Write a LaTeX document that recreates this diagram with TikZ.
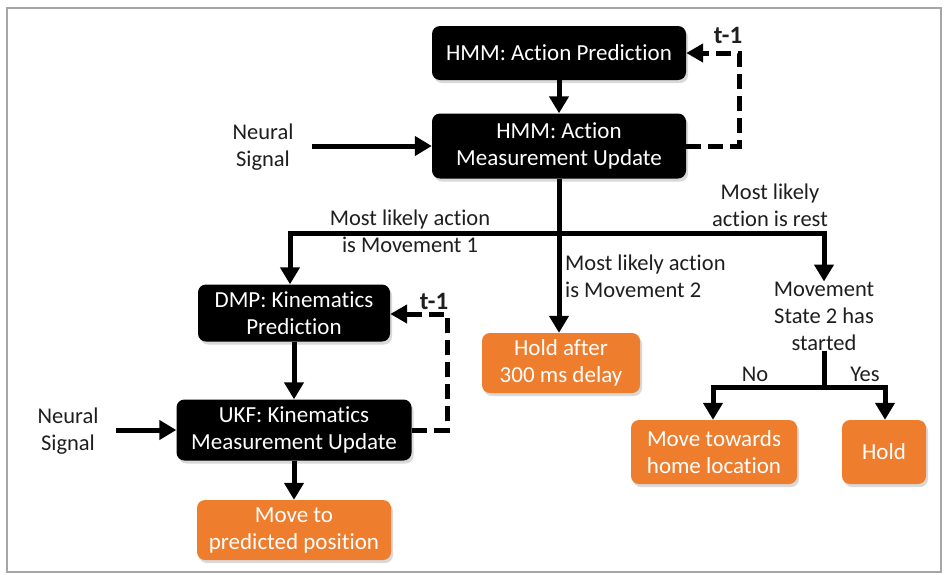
\documentclass[tikz,border=0pt]{standalone}
\usepackage{fontspec}
\setmainfont{Carlito}[RawFeature={-liga}]
\usetikzlibrary{arrows.meta,shadows}
\definecolor{boxorange}{RGB}{238,125,45}
\definecolor{txtgray}{RGB}{30,30,30}
\tikzset{
  blackbox/.style={draw=none,fill=black,rounded corners=8pt,text=white,align=center,
    font=\fontsize{23}{27}\selectfont,inner sep=0pt,
    drop shadow={opacity=0.3,shadow xshift=2pt,shadow yshift=-3pt}},
  orangebox/.style={draw=none,fill=boxorange,rounded corners=8pt,text=white,align=center,
    font=\fontsize{23}{27}\selectfont,inner sep=0pt,
    drop shadow={opacity=0.3,shadow xshift=2pt,shadow yshift=-3pt}},
  lbl/.style={text=txtgray,align=center,font=\fontsize{22.5}{27}\selectfont,inner sep=0pt},
  bold lbl/.style={text=txtgray,font=\bfseries\fontsize{25}{27}\selectfont,inner sep=0pt},
  conn/.style={line width=5pt,-{Triangle[width=19pt,length=17pt]}},
  plain/.style={line width=5pt},
  dashconn/.style={line width=5pt,dash pattern=on 15pt off 7pt,-{Triangle[width=18pt,length=17pt]}},
}
\begin{document}
\begin{tikzpicture}[x=1pt,y=-1pt]
\useasboundingbox (0,0) rectangle (944,574);
\draw[gray!70,line width=1.5pt] (7,8) rectangle (941,572);

% top HMM
\node[blackbox,minimum width=254pt,minimum height=54pt] (hp) at (559,53) {HMM: Action Prediction};
\node[blackbox,minimum width=254pt,minimum height=65pt] (hm) at (559,146) {HMM: Action\\Measurement Update};
\draw[conn] (hp.south) -- (hm.north);
\node[lbl] (ns1) at (263,147) {Neural\\Signal};
\coordinate (ns1e) at (312,146);
\draw[conn] (ns1e) -- (hm.west);
\coordinate (hl1) at (739,146);
\coordinate (hl2) at (739,53);
\draw[dashconn] (hm.east) -- (hl1) -- (hl2) -- (hp.east);
\node[bold lbl] (t1) at (728,35) {t-1};

% branch
\coordinate (bl) at (290,233);
\coordinate (br) at (824,233);
\coordinate (bm) at (559,233);
\draw[plain] (hm.south) -- (bm);

% left branch DMP
\node[blackbox,minimum width=192pt,minimum height=57pt] (dmp) at (294,313) {DMP: Kinematics\\Prediction};
\node[blackbox,minimum width=235pt,minimum height=61pt] (ukf) at (294,430) {UKF: Kinematics\\Measurement Update};
\node[orangebox,minimum width=194pt,minimum height=60pt] (mp) at (294,530) {Move to\\predicted position};
\draw[conn] (bm) -- (bl) -- (dmp.north -| bl);
\draw[conn] (dmp.south) -- (ukf.north);
\draw[conn] (ukf.south) -- (mp.north);
\node[lbl] (ns2) at (68,431) {Neural\\Signal};
\coordinate (ns2e) at (116,430);
\draw[conn] (ns2e) -- (ukf.west);
\coordinate (kl1) at (447,430);
\coordinate (kl2) at (447,314);
\draw[dashconn] (ukf.east) -- (kl1) -- (kl2) -- (dmp.east |- kl2);
\node[bold lbl] (t2) at (434,301) {t-1};
\node[lbl,anchor=south] (l1a) at (410,229) {Most likely action};
\node[lbl,anchor=north] (l1b) at (410,237) {is Movement 1};

% middle branch
\node[orangebox,minimum width=158pt,minimum height=60pt] (hold3) at (561,363) {Hold after\\300 ms delay};
\draw[conn] (bm) -- (hold3.north -| bm);
\node[lbl,align=left,anchor=north west] (l2) at (565,255) {Most likely action\\is Movement 2};

% right branch
\node[lbl,anchor=south] (l3) at (770,227) {Most likely\\action is rest};
\node[lbl] (ms) at (824,316) {Movement\\State 2 has\\started};
\draw[conn] (bm) -- (br) -- (ms.north);
\coordinate (mv) at (824,387);
\coordinate (ml) at (713,387);
\coordinate (mr) at (885,387);
\draw[plain] (ms.south) -- (mv);
\node[orangebox,minimum width=166pt,minimum height=64pt] (home) at (714,452) {Move towards\\home location};
\node[orangebox,minimum width=84pt,minimum height=64pt] (hold) at (884,452) {Hold};
\draw[conn] (mv) -- (ml) -- (home.north -| ml);
\draw[conn] (mv) -- (mr) -- (hold.north -| mr);
\node[lbl] (no) at (755,374) {No};
\node[lbl] (yes) at (865,374) {Yes};
\end{tikzpicture}
\end{document}
